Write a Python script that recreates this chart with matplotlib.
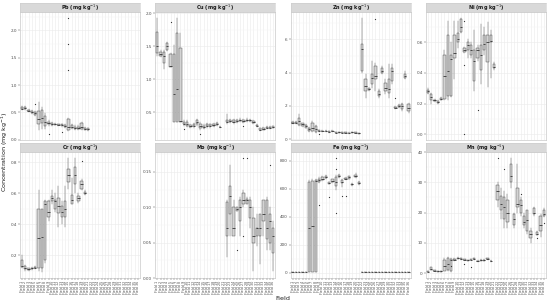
import matplotlib
matplotlib.use("Agg")
import matplotlib.pyplot as plt
from matplotlib.ticker import AutoMinorLocator

# field names on the x axis (fields 1-21 = group A, 22-36 = group B)
fields = ["Field %d" % i for i in range(1, 37)]

# box stats per field: (whisker low, q1, median, q3, whisker high)
pb = [(0.55, 0.56, 0.57, 0.59, 0.61), (0.55, 0.56, 0.58, 0.6, 0.62), (0.5, 0.52, 0.53, 0.55, 0.57),
      (0.47, 0.49, 0.5, 0.52, 0.54), (0.44, 0.46, 0.48, 0.5, 0.52), (0.18, 0.28, 0.38, 0.52, 0.68),
      (0.2, 0.31, 0.4, 0.55, 0.6), (0.2, 0.25, 0.33, 0.43, 0.48), (0.25, 0.28, 0.3, 0.33, 0.36),
      (0.25, 0.27, 0.28, 0.3, 0.32), (0.26, 0.27, 0.28, 0.29, 0.3), (0.25, 0.26, 0.27, 0.28, 0.29),
      (0.24, 0.26, 0.27, 0.28, 0.29), (0.22, 0.24, 0.25, 0.26, 0.28), (0.15, 0.18, 0.24, 0.37, 0.4),
      (0.2, 0.22, 0.24, 0.26, 0.28), (0.18, 0.2, 0.22, 0.24, 0.26), (0.18, 0.2, 0.22, 0.24, 0.26),
      (0.17, 0.2, 0.24, 0.3, 0.32), (0.17, 0.18, 0.2, 0.22, 0.24), (0.16, 0.17, 0.19, 0.21, 0.22)]
pb_out = {5: [0.66], 9: [0.1], 13: [0.14], 15: [2.23, 1.75, 1.27]}

cu = [(1.35, 1.4, 1.5, 1.72, 1.93), (1.34, 1.36, 1.38, 1.42, 1.44), (1.15, 1.25, 1.35, 1.42, 1.45),
      (1.43, 1.45, 1.5, 1.55, 1.57), (1.18, 1.19, 1.2, 1.38, 1.4), (0.35, 0.36, 0.78, 1.38, 1.52),
      (0.35, 0.36, 0.85, 1.7, 1.93), (0.35, 0.36, 0.37, 1.47, 1.7), (0.3, 0.32, 0.33, 0.36, 0.38),
      (0.28, 0.3, 0.32, 0.36, 0.38), (0.26, 0.28, 0.29, 0.31, 0.33), (0.27, 0.29, 0.3, 0.32, 0.34),
      (0.3, 0.32, 0.35, 0.38, 0.4), (0.24, 0.26, 0.3, 0.33, 0.35), (0.25, 0.27, 0.28, 0.3, 0.32),
      (0.27, 0.29, 0.3, 0.32, 0.34), (0.27, 0.29, 0.3, 0.32, 0.33), (0.28, 0.3, 0.31, 0.33, 0.34),
      (0.29, 0.31, 0.32, 0.34, 0.35), (0.27, 0.275, 0.28, 0.285, 0.29), None,
      (0.33, 0.35, 0.36, 0.38, 0.47), (0.34, 0.36, 0.37, 0.38, 0.4), (0.33, 0.35, 0.36, 0.38, 0.4),
      (0.34, 0.36, 0.37, 0.38, 0.4), (0.35, 0.37, 0.38, 0.39, 0.41), (0.34, 0.36, 0.37, 0.38, 0.4),
      (0.35, 0.37, 0.38, 0.39, 0.42), (0.35, 0.37, 0.38, 0.39, 0.4), (0.32, 0.34, 0.35, 0.37, 0.38),
      (0.28, 0.29, 0.3, 0.31, 0.32), (0.22, 0.23, 0.24, 0.26, 0.27), (0.23, 0.24, 0.25, 0.27, 0.28),
      (0.25, 0.26, 0.27, 0.28, 0.29), (0.25, 0.26, 0.27, 0.28, 0.29), (0.26, 0.27, 0.28, 0.29, 0.3)]
cu_out = {5: [1.87], 9: [0.25], 14: [0.17], 27: [0.3]}

zn = [(0.9, 0.95, 1.0, 1.05, 1.1), (0.9, 0.95, 1.0, 1.05, 1.1), (0.8, 0.85, 1.1, 1.25, 1.5),
      (0.75, 0.8, 0.9, 0.95, 1.0), (0.65, 0.7, 0.8, 0.85, 0.9), (0.45, 0.5, 0.6, 0.7, 0.75),
      (0.45, 0.5, 0.7, 1.0, 1.1), (0.4, 0.45, 0.6, 0.8, 0.85), (0.45, 0.48, 0.5, 0.53, 0.55),
      (0.45, 0.48, 0.5, 0.52, 0.55), (0.45, 0.48, 0.5, 0.52, 0.55), (0.4, 0.42, 0.45, 0.48, 0.5),
      (0.45, 0.48, 0.5, 0.52, 0.55), (0.35, 0.38, 0.4, 0.42, 0.45), (0.38, 0.4, 0.42, 0.44, 0.46),
      (0.35, 0.38, 0.4, 0.42, 0.45), (0.35, 0.38, 0.4, 0.42, 0.45), (0.33, 0.36, 0.38, 0.4, 0.42),
      (0.38, 0.4, 0.42, 0.44, 0.46), (0.35, 0.38, 0.4, 0.42, 0.45), (0.3, 0.33, 0.35, 0.37, 0.4),
      (4.0, 4.1, 5.4, 5.7, 7.3), (2.5, 2.9, 3.2, 3.6, 3.9), (2.9, 2.95, 3.0, 3.05, 3.1),
      (3.1, 3.3, 3.7, 3.9, 4.7), (2.9, 3.6, 3.8, 4.4, 4.6), (2.5, 2.6, 2.7, 2.9, 3.0),
      (3.9, 4.0, 4.1, 4.3, 4.4), (2.7, 2.9, 3.1, 3.4, 3.6), (2.5, 2.8, 3.0, 3.6, 4.5),
      (3.3, 3.5, 4.1, 4.3, 4.5), (1.8, 1.85, 1.9, 1.95, 2.0), (1.9, 1.95, 2.0, 2.05, 2.1),
      (1.7, 1.8, 2.0, 2.1, 2.2), (3.6, 3.7, 3.8, 3.9, 4.1), (1.6, 1.7, 1.9, 2.1, 2.2)]
zn_out = {9: [0.3], 26: [7.25], 32: [2.5]}

ni = [(0.26, 0.27, 0.28, 0.29, 0.3), (0.2, 0.22, 0.24, 0.26, 0.27), (0.21, 0.215, 0.22, 0.225, 0.23),
      (0.2, 0.205, 0.21, 0.215, 0.22), (0.22, 0.225, 0.23, 0.235, 0.24), (0.22, 0.23, 0.38, 0.52, 0.55),
      (0.22, 0.25, 0.41, 0.65, 0.74), (0.24, 0.25, 0.49, 0.52, 0.6), (0.36, 0.5, 0.53, 0.65, 0.74),
      (0.56, 0.6, 0.62, 0.66, 0.74), (0.66, 0.67, 0.7, 0.75, 0.76), (0.53, 0.54, 0.55, 0.56, 0.57),
      (0.5, 0.55, 0.58, 0.6, 0.62), (0.5, 0.52, 0.55, 0.58, 0.6), (0.28, 0.35, 0.48, 0.55, 0.68),
      (0.48, 0.5, 0.55, 0.56, 0.58), (0.33, 0.42, 0.52, 0.58, 0.72), (0.52, 0.55, 0.59, 0.65, 0.7),
      (0.31, 0.47, 0.6, 0.65, 0.73), (0.37, 0.6, 0.61, 0.65, 0.68), (0.42, 0.43, 0.44, 0.46, 0.47)]
ni_out = {12: [0.74, 0.45, 0.0], 16: [0.16]}

cr = [(0.12, 0.125, 0.13, 0.17, 0.2), (0.1, 0.11, 0.12, 0.13, 0.14), (0.1, 0.105, 0.11, 0.115, 0.12),
      (0.105, 0.11, 0.115, 0.12, 0.125), (0.11, 0.115, 0.12, 0.125, 0.13), (0.1, 0.12, 0.31, 0.5, 0.62),
      (0.09, 0.12, 0.32, 0.5, 0.5), (0.15, 0.17, 0.53, 0.55, 0.56), (0.42, 0.45, 0.48, 0.55, 0.56),
      (0.53, 0.55, 0.57, 0.58, 0.62), (0.48, 0.5, 0.55, 0.56, 0.6), (0.38, 0.47, 0.52, 0.57, 0.65),
      (0.4, 0.45, 0.48, 0.52, 0.55), (0.38, 0.45, 0.5, 0.55, 0.65), (0.63, 0.67, 0.72, 0.76, 0.83),
      (0.53, 0.53, 0.56, 0.59, 0.7), (0.6, 0.66, 0.72, 0.77, 0.83), (0.54, 0.55, 0.57, 0.58, 0.6),
      (0.62, 0.63, 0.66, 0.68, 0.69), (0.59, 0.595, 0.6, 0.61, 0.62)]
cr_out = {19: [0.81]}

mo = [None] * 21 + [
      (0.03, 0.06, 0.07, 0.108, 0.11), (0.06, 0.09, 0.116, 0.13, 0.16), (0.06, 0.06, 0.07, 0.1, 0.11),
      (0.095, 0.095, 0.097, 0.1, 0.1), (0.06, 0.08, 0.1, 0.11, 0.115), (0.1, 0.105, 0.11, 0.12, 0.125),
      (0.105, 0.105, 0.11, 0.112, 0.115), (0.07, 0.085, 0.1, 0.11, 0.115), (0.01, 0.05, 0.06, 0.085, 0.1),
      (0.045, 0.06, 0.07, 0.07, 0.09), (0.02, 0.06, 0.07, 0.09, 0.09), (0.06, 0.08, 0.09, 0.11, 0.11),
      (0.04, 0.055, 0.07, 0.11, 0.115), (0.04, 0.05, 0.08, 0.09, 0.1), (0.01, 0.035, 0.06, 0.07, 0.08)]
mo_out = {25: [0.04], 27: [0.17, 0.06], 28: [0.17], 35: [0.16]}

fe = [(4, 4.5, 5, 5.5, 6), (4, 4.5, 5, 5.5, 6), (2, 2.5, 3, 3.5, 4), (2, 2.5, 3, 3.5, 4), (2, 2.5, 3, 3.5, 4),
      (5, 6, 320, 650, 660), (5, 6, 330, 655, 665), (5, 6, 655, 660, 670), (640, 650, 660, 670, 680),
      (655, 660, 670, 680, 690), (670, 675, 685, 690, 695), (630, 635, 640, 645, 650),
      (640, 650, 655, 665, 670), (590, 620, 650, 680, 700), (675, 680, 690, 700, 705),
      (610, 640, 650, 660, 665), (660, 665, 670, 675, 680), (665, 670, 680, 690, 690),
      (620, 625, 630, 635, 640), (675, 680, 690, 700, 710), (625, 630, 640, 650, 655)] + \
     [(3, 4, 5, 6, 7)] * 15
fe_out = {9: [480], 12: [540], 14: [820, 740, 425], 16: [550], 17: [550]}

mn = [(0.3, 0.4, 0.5, 0.6, 0.7), (1.0, 1.2, 1.5, 2.0, 2.2), (0.6, 0.7, 0.8, 0.9, 1.0), (0.5, 0.55, 0.6, 0.65, 0.7),
      (0.5, 0.55, 0.6, 0.65, 0.7), (0.6, 0.8, 2.5, 4.5, 5.0), (0.6, 1.0, 3.0, 5.0, 5.3), (0.5, 0.6, 4.5, 4.6, 5.0),
      (4.0, 4.3, 4.5, 4.8, 5.0), (4.7, 4.8, 5.0, 5.1, 5.3), (4.5, 4.6, 4.8, 5.0, 5.1), (4.2, 4.3, 4.5, 4.7, 4.8),
      (3.9, 4.0, 4.2, 4.4, 4.5), (4.2, 4.3, 4.5, 4.7, 4.8), (4.5, 4.6, 4.8, 5.0, 5.1), (3.8, 3.9, 4.0, 4.1, 4.2),
      (4.0, 4.1, 4.3, 4.5, 4.6), (4.0, 4.1, 4.3, 4.5, 4.6), (4.5, 4.6, 4.8, 5.0, 5.1), (3.8, 3.9, 4.0, 4.1, 4.2),
      None,
      (22, 24, 27, 29, 30), (18, 21, 23, 25.5, 28), (15, 18, 22, 25, 27), (15, 17, 20, 24, 26),
      (28, 30, 32, 36, 38), (15, 16, 18, 19.5, 20), (20, 22, 23, 28, 36), (19, 20, 22.5, 24, 25),
      (15, 16, 17, 19, 20), (13, 14, 17.5, 21, 21), (10, 11.5, 13, 14, 15), (19, 19.5, 20, 21.5, 22),
      (12.5, 12.7, 13, 13.5, 14), (12, 14, 16, 19, 19.5), (18.5, 19, 19.5, 21, 21.5)]
mn_out = {8: [2.5], 12: [3.0], 14: [2.2], 22: [38], 24: [34.5], 29: [26], 34: [11.5], 36: [16.5]}

panels = [
    ("Pb", pb, pb_out, [0, 0.5, 1.0, 1.5, 2.0], "%.1f"),
    ("Cu", cu, cu_out, [0.5, 1.0, 1.5, 2.0], "%.1f"),
    ("Zn", zn, zn_out, [0, 2, 4, 6], "%d"),
    ("Ni", ni, ni_out, [0.0, 0.2, 0.4, 0.6], "%.1f"),
    ("Cr", cr, cr_out, [0.2, 0.4, 0.6, 0.8], "%.1f"),
    ("Mo", mo, mo_out, [0.0, 0.05, 0.10, 0.15], "%.2f"),
    ("Fe", fe, fe_out, [0, 200, 400, 600, 800], "%d"),
    ("Mn", mn, mn_out, [0, 10, 20, 30, 40], "%d"),
]

W, H = 550, 303
fig = plt.figure(figsize=(5.5, 3.03), dpi=100)

grid_col = "#ebebeb"
n = len(fields)

for k, (name, stats, outl, yt, fmt) in enumerate(panels):
    row, col = divmod(k, 4)
    x0 = 20 + 135.3 * col
    pw = 120
    if row == 0:
        top, bot = 12, 140
    else:
        top, bot = 152, 278
    ax = fig.add_axes([x0 / W, 1 - bot / H, pw / W, (bot - top) / H])
    sax = fig.add_axes([x0 / W, 1 - top / H, pw / W, 9.5 / H])
    sax.set_facecolor("#d9d9d9")
    sax.set_xticks([])
    sax.set_yticks([])
    for s in sax.spines.values():
        s.set_color("#cccccc")
        s.set_linewidth(0.4)
    sax.text(0.5, 0.45, name + r" (mg kg$^{-1}$)", ha="center", va="center",
             fontsize=3.6, fontweight="bold", color="#1a1a1a", transform=sax.transAxes)

    bstats, pos, allv = [], [], []
    for i, s in enumerate(stats):
        if s is None:
            continue
        lo, q1, med, q3, hi = s
        fl = outl.get(i + 1, [])
        bstats.append(dict(whislo=lo, q1=q1, med=med, q3=q3, whishi=hi, fliers=fl))
        pos.append(i + 1)
        allv += [lo, hi] + fl
    ax.bxp(bstats, positions=pos, widths=0.7, patch_artist=True, showcaps=False,
           boxprops=dict(facecolor="#d3d3d3", edgecolor="#595959", linewidth=0.35),
           medianprops=dict(color="#333333", linewidth=0.6),
           whiskerprops=dict(color="#595959", linewidth=0.35),
           flierprops=dict(marker="o", markersize=0.9, markerfacecolor="#333333",
                           markeredgecolor="none"),
           zorder=3)
    lo_v, hi_v = min(allv), max(allv)
    pad = (hi_v - lo_v) * 0.05
    ax.set_ylim(lo_v - pad, hi_v + pad)
    ax.set_xlim(0.4, n + 0.6)
    ax.set_yticks(yt)
    ax.set_yticklabels([fmt % v for v in yt])
    ax.yaxis.set_minor_locator(AutoMinorLocator(2))
    ax.set_xticks(range(1, n + 1))
    ax.set_facecolor("white")
    ax.grid(True, which="major", color=grid_col, linewidth=0.4, zorder=0)
    ax.grid(True, which="minor", axis="y", color="#f4f4f4", linewidth=0.3, zorder=0)
    ax.set_axisbelow(True)
    for s in ax.spines.values():
        s.set_color("#bbbbbb")
        s.set_linewidth(0.4)
    ax.tick_params(axis="both", which="major", length=1.2, width=0.3, color="#444444",
                   labelsize=3, pad=1, labelcolor="#4d4d4d")
    ax.tick_params(axis="y", which="minor", length=0)
    if row == 1:
        ax.set_xticklabels(fields, rotation=90, fontsize=2.4)
    else:
        ax.set_xticklabels([])
        ax.tick_params(axis="x", length=0)

fig.text(5 / W, 0.5, r"Concentration (mg kg$^{-1}$)", rotation=90, ha="center", va="center",
         fontsize=4.6, color="#1a1a1a")
fig.text(283 / W, 1 - 299 / H, "Field", ha="center", va="center", fontsize=4.6, color="#1a1a1a")

fig.savefig("out.png", dpi=100, facecolor="white")
